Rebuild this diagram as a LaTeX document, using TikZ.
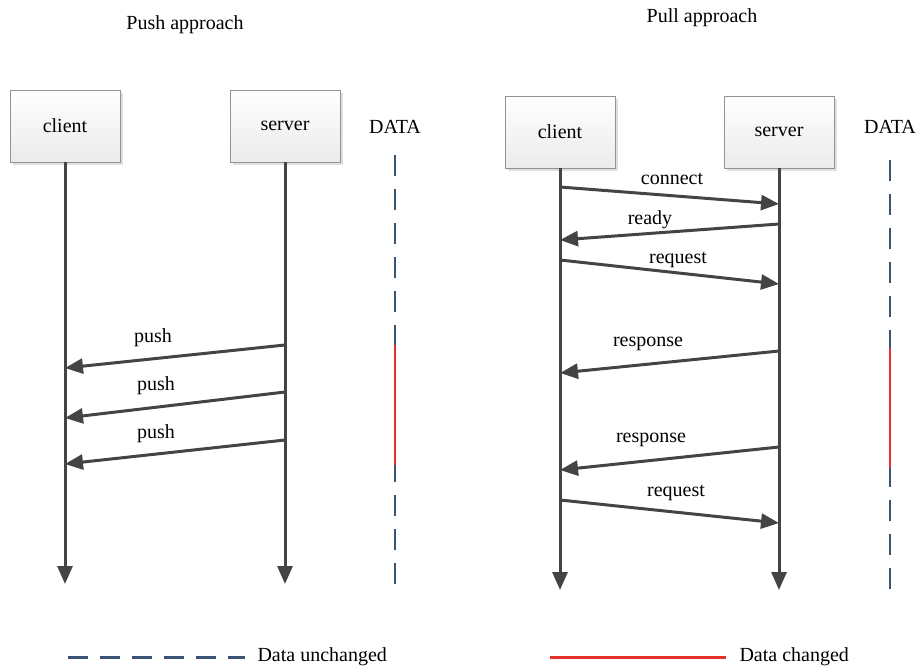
\documentclass[tikz,border=0pt]{standalone}
\usepackage{fontspec}
\setmainfont{Liberation Serif}
\usetikzlibrary{arrows.meta,shadows}

\definecolor{darkline}{HTML}{444444}
\definecolor{datablue}{HTML}{3A5573}
\definecolor{datared}{HTML}{E8302A}

\begin{document}
\begin{tikzpicture}[x=1pt,y=-1pt]
            \tikzstyle{every node}=[font=\rmfamily\fontsize{20}{24}\selectfont]
            \tikzstyle{party}=[draw=gray!85, thin, top color=white, bottom color=gray!16, minimum width=110pt, minimum height=72pt, drop shadow={shadow xshift=3pt, shadow yshift=-3pt, fill=gray!35, opacity=.7}]
            \tikzstyle{lifeline}=[line width=3pt, darkline, -{Triangle[length=18pt,width=15pt]}]
            \tikzstyle{msg}=[line width=3pt, darkline, -{Triangle[length=18pt,width=15pt]}]
            \tikzstyle{unchanged}=[line width=2.4pt, datablue, dash pattern=on 21pt off 13pt]
            \tikzstyle{changed}=[line width=2.4pt, datared]

            \useasboundingbox (0,0) rectangle (920,670);

            % titles
            \node (pushtitle) at (185,25) {Push approach};
            \node (pulltitle) at (702,18) {Pull approach};

            % push boxes
            \node[party] (pushclient) at (65,126) {client};
            \node[party] (pushserver) at (285,126) {server};
            \node (pushdata) at (395,127) {DATA};

            % push lifelines
            \coordinate (pushclientend) at (65,584);
            \coordinate (pushserverend) at (285,584);
            \coordinate (pushdatatop) at (395,155);
            \coordinate (pushdataend) at (395,585);
            \coordinate (pushredtop) at (395,345);
            \coordinate (pushredend) at (395,465);
            \draw[lifeline] (pushclient.south) -- (pushclientend);
            \draw[lifeline] (pushserver.south) -- (pushserverend);
            \draw[unchanged] (pushdatatop) -- (pushdataend);
            \draw[changed] (pushredtop) -- (pushredend);

            % push messages
            \coordinate (ps1) at (285,345);
            \coordinate (pc1) at (65,368);
            \coordinate (ps2) at (285,392);
            \coordinate (pc2) at (65,418);
            \coordinate (ps3) at (285,440);
            \coordinate (pc3) at (65,464);
            \draw[msg] (ps1) -- (pc1);
            \draw[msg] (ps2) -- (pc2);
            \draw[msg] (ps3) -- (pc3);
            \node (push1) at (153,338) {push};
            \node (push2) at (156,386) {push};
            \node (push3) at (156,434) {push};

            % pull boxes
            \node[party] (pullclient) at (560,132) {client};
            \node[party] (pullserver) at (779,132) {server};
            \node (pulldata) at (890,127) {DATA};

            % pull lifelines
            \coordinate (pullclientend) at (560,590);
            \coordinate (pullserverend) at (779,590);
            \coordinate (pulldatatop) at (890,160);
            \coordinate (pulldataend) at (890,590);
            \coordinate (pullredtop) at (890,348);
            \coordinate (pullredend) at (890,468);
            \draw[lifeline] (pullclient.south) -- (pullclientend);
            \draw[lifeline] (pullserver.south) -- (pullserverend);
            \draw[unchanged] (pulldatatop) -- (pulldataend);
            \draw[changed] (pullredtop) -- (pullredend);

            % pull messages
            \coordinate (qc1) at (560,187);
            \coordinate (qs1) at (779,204);
            \coordinate (qs2) at (779,224);
            \coordinate (qc2) at (560,240);
            \coordinate (qc3) at (560,260);
            \coordinate (qs3) at (779,284);
            \coordinate (qs4) at (779,351);
            \coordinate (qc4) at (560,373);
            \coordinate (qs5) at (779,447);
            \coordinate (qc5) at (560,470);
            \coordinate (qc6) at (560,500);
            \coordinate (qs6) at (779,523);
            \draw[msg] (qc1) -- (qs1);
            \draw[msg] (qs2) -- (qc2);
            \draw[msg] (qc3) -- (qs3);
            \draw[msg] (qs4) -- (qc4);
            \draw[msg] (qs5) -- (qc5);
            \draw[msg] (qc6) -- (qs6);
            \node (connect) at (672,179) {connect};
            \node (ready) at (650,220) {ready};
            \node (request1) at (678,260) {request};
            \node (response1) at (648,344) {response};
            \node (response2) at (651,440) {response};
            \node (request2) at (676,493) {request};

            % legend
            \coordinate (ua) at (68,657);
            \coordinate (ub) at (245,657);
            \coordinate (ca) at (550,657);
            \coordinate (cb) at (726,657);
            \draw[unchanged, line width=3pt, dash pattern=on 20pt off 12pt] (ua) -- (ub);
            \draw[changed, line width=3pt] (ca) -- (cb);
            \node[anchor=west] (unchangedtext) at (254,657) {Data unchanged};
            \node[anchor=west] (changedtext) at (736,657) {Data changed};
        \end{tikzpicture}
\end{document}
